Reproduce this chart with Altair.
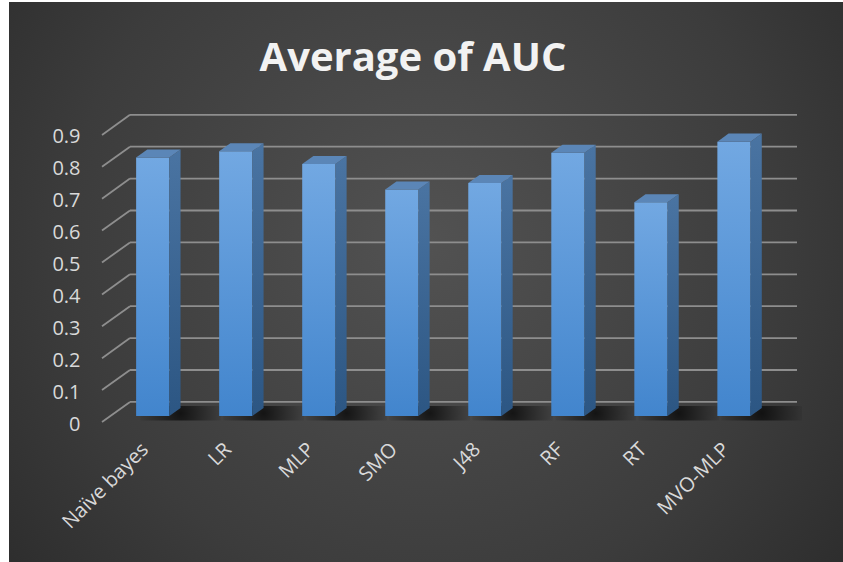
import json
import altair as alt
import pandas as pd

# ---- data ----
categories = ["Naïve bayes", "LR", "MLP", "SMO", "J48", "RF", "RT", "MVO-MLP"]
auc = [0.81, 0.83, 0.79, 0.71, 0.73, 0.825, 0.67, 0.86]
y_ticks = [0, 0.1, 0.2, 0.3, 0.4, 0.5, 0.6, 0.7, 0.8, 0.9]
title_text = "Average of AUC"

# ---- pseudo-3D geometry (data units) ----
X_MIN, X_MAX = -0.611, 7.759      # x scale domain (category index units)
Y_MIN, Y_MAX = 0.0, 1.0           # y scale domain (value units, front plane)
DX, DZ = 0.337, 0.063             # depth of the box: shift right / shift up
HALF = 0.2                        # half width of a column's front face
P_FRONT, P_DEPTH = 0.3, 0.4       # column position and thickness within the depth
B0 = P_FRONT * DZ                 # base height of the column front face
CDX, CDZ = P_DEPTH * DX, P_DEPTH * DZ

W, H = 695, 319
PAD = {"left": 102, "top": 103, "right": 46, "bottom": 140}

xs = alt.Scale(domain=[X_MIN, X_MAX], nice=False, zero=False)
ys = alt.Scale(domain=[Y_MIN, Y_MAX], nice=False, zero=False)

label_expr = json.dumps(categories, ensure_ascii=False) + "[datum.value]"
X_AXIS = alt.Axis(
    values=list(range(len(categories))), labelExpr=label_expr,
    labelAngle=-45, labelAlign="right", labelBaseline="middle",
    labelPadding=24, labelOffset=-8, domain=False, ticks=False, grid=False,
    labelFont="Open Sans", labelFontSize=20, labelColor="#d9d9d9",
    labelOverlap=False, labelFlush=False, title=None, zindex=2,
)
Y_AXIS = alt.Axis(
    values=y_ticks, format=".1~f", domain=False, ticks=False, grid=False,
    labelPadding=22, labelOffset=2, labelFont="Open Sans",
    labelFontSize=20, labelColor="#d9d9d9", labelOverlap=False,
    labelFlush=False, title=None, zindex=2,
)


def X(field):
    return alt.X(field, scale=xs, axis=X_AXIS, title=None)


def Y(field):
    return alt.Y(field, scale=ys, axis=Y_AXIS, title=None)


# ---- tables built from the arrays above ----
front = pd.DataFrame({
    "i": range(len(categories)),
    "name": categories,
    "auc": auc,
})
front["x0"] = front["i"] - HALF
front["x1"] = front["i"] + HALF
front["y0"] = B0
front["y1"] = front["auc"] + B0

side_rows, top_rows, shadow_rows = [], [], []
for i, v in enumerate(auc):
    side_rows += [
        {"i": i, "x": i + HALF, "y": v + B0, "y2": B0},
        {"i": i, "x": i + HALF + CDX, "y": v + B0 + CDZ, "y2": B0 + CDZ},
    ]
    top_rows += [
        {"i": i, "y": v + B0, "x": i - HALF, "x2": i + HALF},
        {"i": i, "y": v + B0 + CDZ, "x": i - HALF + CDX, "x2": i + HALF + CDX},
    ]
    shadow_rows.append({"i": i, "x": i - HALF + 0.05, "x2": i + HALF + 0.62,
                        "y": B0 - 0.014, "y2": B0 + CDZ + 0.006})
side = pd.DataFrame(side_rows)
top = pd.DataFrame(top_rows)
shadow = pd.DataFrame(shadow_rows)

grid = pd.DataFrame({"t": y_ticks})
grid["xb0"] = X_MIN + DX
grid["xb1"] = X_MAX
grid["yb"] = grid["t"] + DZ
grid["xf"] = X_MIN

# ---- background: radial gradient panel ----
bg = alt.Chart(pd.DataFrame({"k": [0]})).mark_rect(
    fill=alt.Gradient(
        gradient="radial",
        stops=[alt.GradientStop(color="#525252", offset=0),
               alt.GradientStop(color="#3c3c3c", offset=0.55),
               alt.GradientStop(color="#232323", offset=1)],
        x1=0.5, y1=0.45, r1=0, x2=0.5, y2=0.45, r2=0.78,
    ),
).encode(
    x=alt.value(9 - PAD["left"]), x2=alt.value(843 - PAD["left"]),
    y=alt.value(2 - PAD["top"]), y2=alt.value(562 - PAD["top"]),
)

grid_color = "#8e8e8e"
back_grid = alt.Chart(grid).mark_rule(color=grid_color, strokeWidth=1.8).encode(
    x=X("xb0:Q"), x2="xb1:Q", y=Y("yb:Q"),
)
diag = alt.Chart(grid).mark_rule(color=grid_color, strokeWidth=1.8).encode(
    x=X("xf:Q"), x2="xb0:Q", y=Y("t:Q"), y2="yb:Q",
)

# soft floor shadows behind each column
shadows = alt.Chart(shadow).mark_rect(
    fill=alt.Gradient(
        gradient="radial",
        stops=[alt.GradientStop(color="rgba(0,0,0,0.7)", offset=0),
               alt.GradientStop(color="rgba(0,0,0,0.3)", offset=0.55),
               alt.GradientStop(color="rgba(0,0,0,0)", offset=1)],
        x1=0.5, y1=0.5, r1=0, x2=0.5, y2=0.5, r2=0.55,
    ),
).encode(
    x=X("x:Q"), x2="x2:Q", y=Y("y:Q"), y2="y2:Q", detail="i:N",
)

# right side faces
sides = alt.Chart(side).mark_area(
    orient="vertical",
    fill=alt.Gradient(
        gradient="linear",
        stops=[alt.GradientStop(color="#4a74a2", offset=0),
               alt.GradientStop(color="#2c5683", offset=1)],
        x1=0, x2=0, y1=0, y2=1,
    ),
).encode(
    x=X("x:Q"), y=Y("y:Q"), y2="y2:Q", detail="i:N",
)

# top faces
tops = alt.Chart(top).mark_area(orient="horizontal", color="#5b86b7").encode(
    y=Y("y:Q"), x=X("x:Q"), x2="x2:Q", detail="i:N",
)

# front faces
fronts = alt.Chart(front).mark_rect(
    fill=alt.Gradient(
        gradient="linear",
        stops=[alt.GradientStop(color="#72a8e2", offset=0),
               alt.GradientStop(color="#4285cd", offset=1)],
        x1=0, x2=0, y1=0, y2=1,
    ),
).encode(
    x=X("x0:Q"), x2="x1:Q", y=Y("y0:Q"), y2="y1:Q",
    tooltip=["name:N", "auc:Q"],
)

title_mark = alt.Chart(pd.DataFrame({"t": [title_text]})).mark_text(
    font="Open Sans", fontWeight="bold", fontSize=40, color="#f2f2f2",
    baseline="alphabetic", align="center",
).encode(text="t:N", x=alt.value(413 - PAD["left"]), y=alt.value(71 - PAD["top"]))

chart = alt.layer(
    bg, back_grid, diag, shadows, fronts, sides, tops, title_mark,
).properties(
    width=W, height=H,
    autosize=alt.AutoSizeParams(type="none"),
    padding=PAD,
    background="#ffffff",
).configure_view(stroke=None)

chart.save("out.html", embed_options={"renderer": "svg", "actions": False})
